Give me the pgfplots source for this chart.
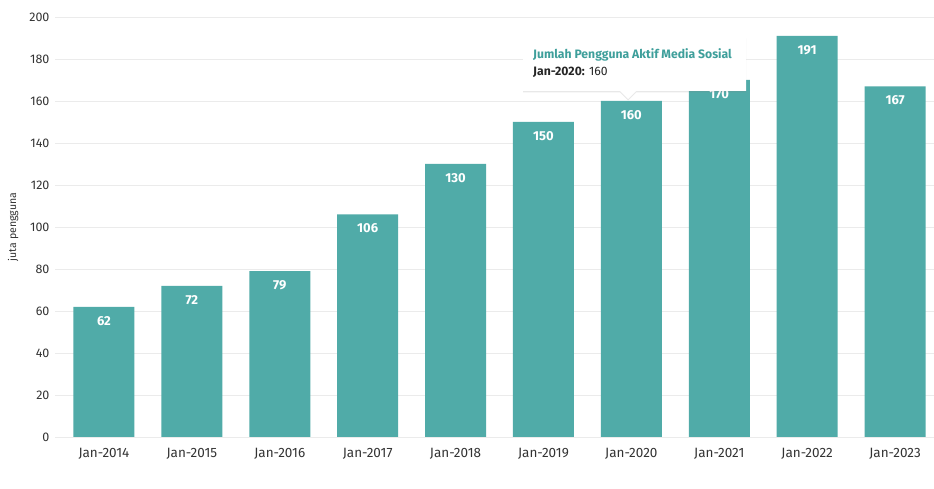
\documentclass[border=0pt]{standalone}
\usepackage{fontspec}
\setmainfont{Fira Sans}
\usepackage{pgfplots}
\pgfplotsset{compat=1.18}
\usetikzlibrary{shadows}
\definecolor{barc}{HTML}{50ABA8}
\definecolor{tealtxt}{HTML}{3E9F9B}
\definecolor{gridc}{HTML}{EBEBEB}
\definecolor{tickc}{HTML}{333333}
\begin{document}
\begin{tikzpicture}[x=1pt,y=1pt]
\begin{axis}[
  at={(0,0)}, anchor=south west,
  scale only axis, width=879pt, height=420pt,
  xmin=-0.557, xmax=9.443, ymin=0, ymax=200,
  ytick={0,20,...,200},
  xtick={0,...,9},
  xticklabels={Jan-2014,Jan-2015,Jan-2016,Jan-2017,Jan-2018,Jan-2019,Jan-2020,Jan-2021,Jan-2022,Jan-2023},
  axis line style={draw=none},
  major tick length=0pt,
  xmajorgrids=false,
  ymajorgrids=true, major grid style={draw=gridc, line width=0.6pt},
  tick label style={font=\fontsize{12.5}{14}\selectfont, text=tickc},
  xticklabel style={font=\fontsize{13.5}{15}\selectfont, yshift=-8pt},
  /pgf/number format/assume math mode=true,
  yticklabel style={xshift=-2pt},
  ylabel={juta pengguna},
  ylabel style={font=\fontsize{10.5}{12}\selectfont, text=tickc, yshift=4pt},
  ybar, bar width=61pt,
  nodes near coords,
  nodes near coords style={font=\bfseries\fontsize{13}{15}\selectfont, text=white, anchor=north, yshift=-6pt},
  clip=false,
]
\addplot[fill=barc, draw=none] coordinates {
(0,62) (1,72) (2,79) (3,106) (4,130) (5,150) (6,160) (7,170) (8,191) (9,167)};
\end{axis}
% tooltip
\draw[draw=none, fill=white, drop shadow={opacity=0.18, shadow xshift=0pt, shadow yshift=-1.5pt}]
  (468,346) -- (565,346) -- (573,338) -- (581,346) -- (691,346) -- (691,400) -- (468,400) -- cycle;
\node[anchor=west, inner sep=0pt, text=tealtxt, font=\bfseries\fontsize{12.2}{14}\selectfont] at (478,382) {Jumlah Pengguna Aktif Media Sosial};
\node[anchor=west, inner sep=0pt, text=black!85, font=\fontsize{12.2}{14}\selectfont] at (478,365) {\textbf{Jan-2020:} 160};
\pgfresetboundingbox
\path[use as bounding box] (-55,-52) rectangle (879,437);
\end{tikzpicture}
\end{document}
